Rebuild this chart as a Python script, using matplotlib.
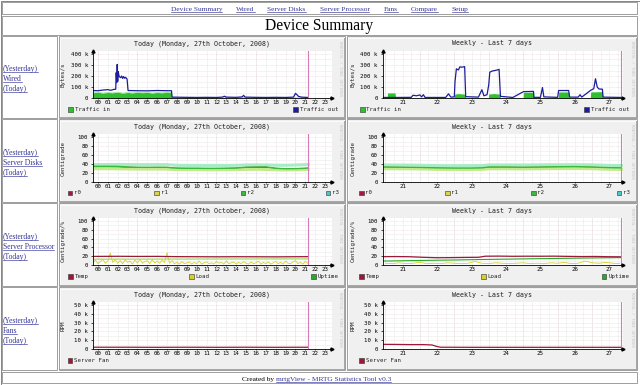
import numpy as np
import matplotlib
matplotlib.use("Agg")
import matplotlib.pyplot as plt
from matplotlib.patches import Rectangle
from matplotlib.lines import Line2D

# ---------------- data ----------------
nav_links = ["Device Summary", "Wired", "Server Disks", "Server Processor", "Fans", "Compare", "Setup"]
page_title = "Device Summary"
row_names = ["Wired", "Server Disks", "Server Processor", "Fans"]
today_title = "Today (Monday, 27th October, 2008)"
weekly_title = "Weekly - Last 7 days"
footer_plain = "Created by "
footer_link = "mrtgView - MRTG Statistics Tool v0.3"
hour_ticks = list(range(24))
hour_labels = ["%02d" % h for h in hour_ticks]
day_ticks = [21, 22, 23, 24, 25, 26, 27]
day_labels = [str(d) for d in day_ticks]
now_hour = 21.3
now_day = 27.35

# Wired, today (k bytes/s)
wired_in_today_t = [-0.5, 0.0, 0.5, 1.0, 1.5, 2.0, 2.5, 3.0, 3.5, 4.0, 4.5, 5.0, 5.5, 6.0, 6.5, 7.0,
                    7.45, 7.5, 10, 13, 16, 19, 21.3]
wired_in_today = [48, 52, 45, 50, 47, 53, 44, 50, 46, 52, 48, 51, 45, 50, 47, 52,
                  48, 2, 2, 1.5, 2, 1.5, 2]
wired_out_today_t = [-0.5, 0.0, 0.5, 1.0, 1.3, 1.6, 1.8, 1.85, 1.9, 1.95, 2.0, 2.05, 2.15, 2.3, 2.4, 2.5,
                     2.6, 2.7, 2.8, 2.95, 3.05, 4.0, 5.0, 6.0, 7.0, 7.45, 7.5, 9.0, 10.0, 11.0, 12.0,
                     12.6, 12.8, 13.0, 14.0, 14.6, 14.75, 14.9, 16.0, 17.0, 18.0, 19.0, 19.8, 20.0,
                     20.15, 20.3, 20.6, 21.0, 21.3]
wired_out_today = [68, 66, 72, 76, 70, 78, 80, 230, 140, 305, 150, 240, 195, 185, 200, 178,
                   195, 180, 188, 172, 68, 66, 65, 68, 66, 66, 8, 6, 5, 6, 5,
                   8, 16, 8, 6, 10, 24, 8, 6, 5, 6, 5, 8, 42,
                   30, 15, 8, 6, 5]

# Wired, weekly (k bytes/s)
wired_in_week_t = [20.42, 20.55, 20.56, 20.78, 20.79, 22.5, 22.51, 22.6, 22.7, 22.82, 22.83, 23.49,
                   23.5, 23.65, 23.83, 23.84, 24.5, 24.51, 24.8, 24.81, 25.52, 25.53, 25.82, 25.83,
                   26.45, 26.46, 26.8, 26.81, 27.35]
wired_in_week = [2, 2, 46, 46, 2, 2, 35, 40, 38, 35, 2, 2,
                 36, 40, 35, 2, 2, 52, 52, 2, 2, 55, 55, 2,
                 2, 55, 58, 2, 2]
wired_out_week_t = [20.42, 20.9, 21.25, 21.3, 21.4, 21.5, 21.55, 21.6, 21.65, 22.25, 22.33, 22.4, 22.5,
                    22.52, 22.56, 22.62, 22.66, 22.72, 22.8, 22.83, 23.2, 23.3, 23.36, 23.45, 23.5,
                    23.53, 23.6, 23.68, 23.75, 23.8, 23.84, 24.2, 24.51, 24.8, 24.81, 25.0, 25.06,
                    25.1, 25.5, 25.53, 25.82, 25.85, 26.1, 26.15, 26.2, 26.46, 26.55, 26.6, 26.65,
                    26.7, 26.8, 26.82, 27.35]
wired_out_week = [5, 5, 6, 25, 20, 28, 10, 30, 5, 5, 38, 8, 10,
                  150, 265, 255, 283, 280, 285, 12, 8, 75, 20, 30, 120,
                  235, 245, 250, 255, 260, 15, 5, 58, 60, 6, 6, 95,
                  10, 6, 68, 68, 8, 8, 30, 8, 70, 85, 175, 100,
                  82, 80, 8, 5]

# Server disks (centigrade)
disk_today_t = [-0.5, 1, 2, 3, 4, 5, 6, 7, 7.5, 8, 9, 10, 11, 12, 13, 14, 15, 16, 17, 18, 19, 20, 21, 21.3]
r0_today = [33.5, 33.5, 33.3, 32, 31.5, 31.4, 31.5, 31.4, 30.5, 29.8, 29.5, 29.5, 29.3, 29.3, 29.5, 30,
            31.8, 32.2, 32.4, 29.5, 28.7, 29, 29.5, 30]
r1_today = [29, 29, 28.8, 28.5, 28.3, 28.2, 28.3, 28.2, 27.5, 27, 26.8, 26.8, 26.5, 26.5, 26.8, 27,
            27.5, 27.8, 27.5, 26.5, 26.2, 26.5, 27, 27.5]
r2_today = [34.5, 34.5, 34.3, 33, 32.3, 32.2, 32.4, 32.3, 31, 30.3, 30, 30, 29.8, 29.8, 30, 30.5,
            32.5, 33, 33.2, 30, 29, 29.3, 30, 30.5]
r3_today = [38.5, 38.5, 38.8, 38.5, 38.3, 38.2, 38.4, 38.3, 37.5, 36.8, 36.5, 36.5, 36.3, 36.4, 36.5, 36.8,
            37.5, 37.8, 37.6, 37, 36.8, 37.5, 38.2, 38.5]
disk_week_t = [20.42, 21, 21.5, 22, 22.5, 23, 23.3, 23.5, 24, 24.5, 25, 25.5, 26, 26.5, 27, 27.35]
r0_week = [32, 31.5, 31, 30, 29.5, 29.5, 30, 32, 32, 31.5, 32, 32.5, 32.8, 32, 30.5, 30]
r1_week = [29, 28.8, 28.5, 27.5, 27.2, 27.2, 27.5, 28.8, 28.8, 28.5, 29, 29.3, 29.5, 29, 27.8, 27.5]
r2_week = [33, 32.5, 32, 31, 30.5, 30.5, 31, 33, 33, 32.5, 33, 33.5, 33.8, 33, 31.5, 31]
r3_week = [37.5, 37.3, 37, 36, 35.8, 36, 36.2, 37.5, 37.6, 37.4, 37.8, 38, 38.2, 37.8, 36.5, 36.2]

# Server processor (centigrade / %)
proc_today_t = [-0.5, 2, 4, 6, 8, 10, 12, 14, 16, 18, 20, 21.3]
temp_today = [19.5, 19.8, 19.5, 19.6, 19, 18.8, 18.6, 18.8, 18.7, 18.5, 18.8, 19]
uptime_today = [13.2, 13.3, 13.3, 13.4, 13.5, 13.5, 13.6, 13.7, 13.7, 13.8, 13.9, 13.9]
load_today_t = np.arange(-0.5, 21.5, 0.25)
load_today = [5, 11, 3, 8, 13, 4, 9, 27, 6, 12,
              4, 10, 3, 12, 6, 9, 2, 11, 5, 13, 4, 8,
              10, 3, 12, 5, 9, 4, 11, 6, 28, 4, 10, 3,
              6, 2, 8, 3, 5, 7, 2, 6, 3, 9, 2, 5,
              7, 3, 5, 2, 8, 4, 6, 2, 9, 3, 5, 7,
              2, 6, 3, 8, 4, 2, 7, 3, 5, 9, 2, 6,
              3, 7, 2, 5, 8, 3, 6, 2, 9, 4, 3, 7,
              10, 3, 6, 2, 8, 4]
proc_week_t = [20.42, 20.8, 21.2, 21.6, 22.0, 22.4, 22.8, 23.2, 23.4, 23.8, 24.2, 24.6, 25.0, 25.4,
               25.8, 26.2, 26.6, 27.0, 27.35]
temp_week = [19, 19.2, 18.8, 17.5, 16.5, 16.8, 17.2, 17.5, 20, 20.2, 19.8, 20, 19.9, 20.1,
             19.6, 19.2, 19.4, 18.8, 18.6]
uptime_week = [9, 9.4, 9.9, 10.4, 10.9, 11.3, 11.8, 12.4, 12.6, 13.1, 13.5, 14, 14.4, 14.8,
               15.3, 15.7, 16.1, 16.5, 16.8]
load_week_t = np.arange(20.5, 27.4, 0.2)
load_week = [4, 3, 5, 3, 4, 6, 3, 4, 3, 5, 4, 3, 4, 8, 4, 3, 5, 4, 3, 4, 5, 3, 4, 3, 5, 4, 6, 3,
             4, 9, 5, 4, 6, 4, 3]

# Fans (k RPM)
fan_today_t = [-0.5, 3, 6, 9, 12, 15, 18, 21.3]
fan_today = [2.0, 2.0, 1.9, 2.0, 1.9, 2.0, 1.9, 2.0]
fan_week_t = [20.42, 20.8, 21.2, 21.6, 21.85, 22.0, 22.1, 23, 24, 25, 26, 27, 27.35]
fan_week = [5.3, 5.2, 5.0, 5.0, 4.6, 2.8, 2.0, 1.9, 1.9, 1.9, 1.9, 1.9, 1.9]

# ---------------- style / layout ----------------
W, H = 640, 385
MONO = "DejaVu Sans Mono"
SERIF = "Liberation Serif"
LINK = "#35359a"
fig = plt.figure(figsize=(6.4, 3.85), dpi=100)
fig.patch.set_facecolor("white")


def FX(x):
    return x / W


def FY(y):
    return 1 - y / H


def seg(x0, y0, x1, y1, color, lw=0.72, z=1):
    fig.add_artist(Line2D([FX(x0), FX(x1)], [FY(y0), FY(y1)], transform=fig.transFigure,
                          color=color, lw=lw, zorder=z))


def rect(x0, y0, x1, y1, fc="none", ec="#a0a0a0", lw=0.72, z=-1):
    fig.add_artist(Rectangle((FX(x0), FY(y1)), (x1 - x0) / W, (y1 - y0) / H,
                             transform=fig.transFigure, fc=fc, ec=ec, lw=lw, zorder=z))


links = []


def link_text(x, ybase, s, size, ha="left", color=LINK, underline=True):
    t = fig.text(FX(x), FY(ybase), s, fontsize=size, family=SERIF, color=color,
                 ha=ha, va="baseline")
    if underline:
        links.append((t, ybase))
    return t


CELL_X = [(58.5, 345.0), (346.5, 637.0)]
PLOT_X = [(93.0, 332.0), (382.7, 622.7)]
ROW_TOPS = [36.0, 119.5, 203.0, 287.0]
ROW_BOTS = [118.0, 202.0, 286.0, 370.0]
LEGEND_X = {
    (0, 1): [67.7], (0, 2): [68.3, 293.3], (0, 3): [68.3, 189.3, 311.0],
    (0, 4): [67.7, 154.3, 240.7, 325.7],
    (1, 1): [359.0], (1, 2): [360.0, 584.3], (1, 3): [359.0, 481.0, 601.7],
    (1, 4): [359.0, 445.0, 531.0, 616.7]}

# page table
rect(0.5, 0.5, 639.5, 384.5, ec="#888888")
rect(2, 2, 637, 14)
rect(2, 16, 637, 35)
rect(2, 372, 637, 383)
for r in range(4):
    rect(2, ROW_TOPS[r], 57, ROW_BOTS[r])
    for c in range(2):
        rect(CELL_X[c][0], ROW_TOPS[r], CELL_X[c][1], ROW_BOTS[r])

nav_x = [196.5, 245.5, 286.5, 344.5, 391.0, 424.5, 460.0]
for x, s in zip(nav_x, nav_links):
    link_text(x, 10.8, s, 5.3, ha="center")
fig.text(FX(319.5), FY(25.5), page_title, fontsize=11.2, family=SERIF, color="black",
         ha="center", va="center")

row_mid = [78.3, 162.3, 246.0, 330.0]
for ym, name in zip(row_mid, row_names):
    link_text(2.7, ym - 10 + 2.6, "(Yesterday)", 5.5)
    link_text(2.7, ym + 2.6, name, 5.5)
    link_text(2.7, ym + 10 + 2.6, "(Today)", 5.5)

t_plain = fig.text(FX(241.7), FY(380.6), footer_plain, fontsize=5.3, family=SERIF,
                   color="black", ha="left", va="baseline")


def panel(row, col, title, ylabel, top_tick, yvals, ylabels, minor_y, xlim, xt, xtl,
          major_x, minor_x, legend, now_x):
    cx0, cx1 = CELL_X[col]
    top, bot = ROW_TOPS[row], ROW_BOTS[row]
    it = top + 1
    rect(cx0 + 1, top + 1, cx1 - 1, bot - 1, fc="#f0f0f0", ec="none", z=-2)
    seg(cx0 + 1.5, top + 1.5, cx1 - 1.5, top + 1.5, "#fbfbfb", z=-1)
    seg(cx0 + 1.5, top + 1.5, cx0 + 1.5, bot - 1.5, "#fbfbfb", z=-1)
    seg(cx0 + 1.5, bot - 1.5, cx1 - 1.5, bot - 1.5, "#a8a8a8", z=-1)
    seg(cx1 - 1.5, top + 1.5, cx1 - 1.5, bot - 1.5, "#a8a8a8", z=-1)
    px0, px1 = PLOT_X[col]
    py_top, py_zero = it + 14, it + 61
    ax = fig.add_axes([FX(px0), FY(py_zero), (px1 - px0) / W, (py_zero - py_top) / H])
    ymax = top_tick * (py_zero - py_top) / 44.0
    ax.set_xlim(*xlim)
    ax.set_ylim(0, ymax)
    ax.set_facecolor("white")
    for s in ("top", "right"):
        ax.spines[s].set_visible(False)
    for s in ("left", "bottom"):
        ax.spines[s].set_linewidth(0.6)
        ax.spines[s].set_zorder(4)
    ax.set_yticks(yvals)
    ax.set_yticklabels(ylabels, fontsize=4.15, family=MONO)
    ax.set_xticks(xt)
    ax.set_xticklabels(xtl, fontsize=4.15, family=MONO)
    ax.tick_params(axis="y", length=1.2, width=0.5, pad=2.2)
    ax.tick_params(axis="x", length=1.0, width=0.5, pad=0.6)
    for v in minor_y:
        ax.axhline(v, color="#eeeeee", lw=0.5, zorder=0.5)
    for v in yvals[1:]:
        ax.axhline(v, color="#ead6d6", lw=0.45, ls=(0, (1, 1)), zorder=0.6)
    for v in minor_x:
        ax.axvline(v, color="#efefef", lw=0.5, zorder=0.5)
    for v in major_x:
        ax.axvline(v, color="#ead6d6", lw=0.45, ls=(0, (1, 1)), zorder=0.6)
    ax.plot([now_x, now_x], [0, ymax], color="#d67ab8", lw=0.8, zorder=3)
    ax.plot([xlim[0]], [ymax], marker="^", ms=2.2, color="black", clip_on=False, zorder=5)
    ax.plot([xlim[1]], [0], marker=">", ms=2.2, color="black", clip_on=False, zorder=5)
    fig.text(FX((cx0 + cx1) / 2), FY(it + 6.5), title, fontsize=4.8, family=MONO,
             color="#202020", ha="center", va="center")
    fig.text(FX(px0 - 30), FY(it + 37.5), ylabel, fontsize=4.15, family=MONO,
             color="#202020", ha="center", va="center", rotation=90)
    fig.text(FX(cx1 - 5), FY(it + 31.5), "RRDTOOL / TOBI OETIKER", fontsize=3.0, family=MONO,
             color="#c4c4c4", ha="center", va="center", rotation=270)
    ly = it + 72.5
    for sx, (lab, colr) in zip(LEGEND_X[(col, len(legend))], legend):
        rect(sx, ly - 2.3, sx + 4.6, ly + 2.3, fc=colr, ec="#303030", lw=0.4, z=3)
        fig.text(FX(sx + 6.5), FY(ly), lab, fontsize=4.15, family=MONO, color="#202020",
                 ha="left", va="center")
    return ax


TODAY_X = (-0.5, 23.7)
WEEK_X = (20.42, 27.39)
today_major_x = [0, 4, 8, 12, 16, 20]
today_minor_x = hour_ticks
week_major_x = [20.5, 21.5, 22.5, 23.5, 24.5, 25.5, 26.5]
week_minor_x = list(np.arange(20.5, 27.4, 0.25))

k_vals = [0, 100, 200, 300, 400]
k_labels = ["0", "100 k", "200 k", "300 k", "400 k"]
c_vals = [0, 20, 40, 60, 80, 100]
c_labels = ["0", "20", "40", "60", "80", "100"]
f_vals = [0, 10, 20, 30, 40, 50]
f_labels = ["0", "10 k", "20 k", "30 k", "40 k", "50 k"]

GREEN_IN, BLUE_OUT = "#2fbf2f", "#1c1c9c"
R0, R1, R2, R3 = "#a8173f", "#d6d64a", "#3cb83c", "#4cc8c8"
TEMP, LOAD, UPTIME = "#9a1838", "#d8cf2a", "#28aa28"
FAN = "#a01838"

wired_leg = [("Traffic in", GREEN_IN), ("Traffic out", BLUE_OUT)]
disk_leg = [("r0", R0), ("r1", R1), ("r2", R2), ("r3", R3)]
proc_leg = [("Temp", TEMP), ("Load", LOAD), ("Uptime", UPTIME)]
fan_leg = [("Server Fan", FAN)]

# Row 1: Wired
ax = panel(0, 0, today_title, "Bytes/s", 400, k_vals, k_labels, [50, 150, 250, 350],
           TODAY_X, hour_ticks, hour_labels, today_major_x, today_minor_x, wired_leg, now_hour)
ax.fill_between(wired_in_today_t, 0, wired_in_today, color=GREEN_IN, lw=0, zorder=1)
ax.plot(wired_in_today_t, wired_in_today, color="#8fe08f", lw=0.5, zorder=1.5)
ax.plot(wired_out_today_t, wired_out_today, color=BLUE_OUT, lw=0.9, zorder=2)
ax = panel(0, 1, weekly_title, "Bytes/s", 400, k_vals, k_labels, [50, 150, 250, 350],
           WEEK_X, day_ticks, day_labels, week_major_x, week_minor_x, wired_leg, now_day)
ax.fill_between(wired_in_week_t, 0, wired_in_week, color=GREEN_IN, lw=0, zorder=1)
ax.plot(wired_out_week_t, wired_out_week, color=BLUE_OUT, lw=0.9, zorder=2)

# Row 2: Server disks
ax = panel(1, 0, today_title, "Centigrade", 100, c_vals, c_labels, [10, 30, 50, 70, 90],
           TODAY_X, hour_ticks, hour_labels, today_major_x, today_minor_x, disk_leg, now_hour)
ax.plot(disk_today_t, r0_today, color=R0, lw=1.0, zorder=1)
ax.plot(disk_today_t, r1_today, color="#c4ea8c", lw=2.2, zorder=1.2)
ax.plot(disk_today_t, r3_today, color="#a6ecc4", lw=2.2, zorder=1.3)
ax.plot(disk_today_t, r2_today, color=R2, lw=1.0, zorder=1.4)
ax = panel(1, 1, weekly_title, "Centigrade", 100, c_vals, c_labels, [10, 30, 50, 70, 90],
           WEEK_X, day_ticks, day_labels, week_major_x, week_minor_x, disk_leg, now_day)
ax.plot(disk_week_t, r0_week, color=R0, lw=1.0, zorder=1)
ax.plot(disk_week_t, r1_week, color="#c4ea8c", lw=2.2, zorder=1.2)
ax.plot(disk_week_t, r3_week, color="#a6ecc4", lw=2.2, zorder=1.3)
ax.plot(disk_week_t, r2_week, color=R2, lw=1.0, zorder=1.4)

# Row 3: Server processor
ax = panel(2, 0, today_title, "Centigrade/%", 100, c_vals, c_labels, [10, 30, 50, 70, 90],
           TODAY_X, hour_ticks, hour_labels, today_major_x, today_minor_x, proc_leg, now_hour)
ax.plot(load_today_t, load_today, color=LOAD, lw=0.6, zorder=1)
ax.plot(proc_today_t, uptime_today, color="#9edc6a", lw=0.9, zorder=1.5)
ax.plot(proc_today_t, temp_today, color=TEMP, lw=0.9, zorder=2)
ax = panel(2, 1, weekly_title, "Centigrade/%", 100, c_vals, c_labels, [10, 30, 50, 70, 90],
           WEEK_X, day_ticks, day_labels, week_major_x, week_minor_x, proc_leg, now_day)
ax.plot(load_week_t, load_week, color=LOAD, lw=0.6, zorder=1)
ax.plot(proc_week_t, uptime_week, color=UPTIME, lw=0.8, zorder=1.5)
ax.plot(proc_week_t, temp_week, color=TEMP, lw=0.9, zorder=2)

# Row 4: Fans
ax = panel(3, 0, today_title, "RPM", 50, f_vals, f_labels, [5, 15, 25, 35, 45],
           TODAY_X, hour_ticks, hour_labels, today_major_x, today_minor_x, fan_leg, now_hour)
ax.plot(fan_today_t, fan_today, color=FAN, lw=0.9, zorder=2)
ax = panel(3, 1, weekly_title, "RPM", 50, f_vals, f_labels, [5, 15, 25, 35, 45],
           WEEK_X, day_ticks, day_labels, week_major_x, week_minor_x, fan_leg, now_day)
ax.plot(fan_week_t, fan_week, color=FAN, lw=0.9, zorder=2)

# footer link placed after the plain part, then underline every link
renderer = fig.canvas.get_renderer()
bb = t_plain.get_window_extent(renderer)
link_text(bb.x1, 380.6, footer_link, 5.3)
for t, yb in links:
    b = t.get_window_extent(renderer)
    fig.add_artist(Line2D([b.x0 / W, b.x1 / W], [FY(yb + 1.2), FY(yb + 1.2)],
                          transform=fig.transFigure, color=t.get_color(), lw=0.45))

fig.savefig("out.png", dpi=100, facecolor="white")
